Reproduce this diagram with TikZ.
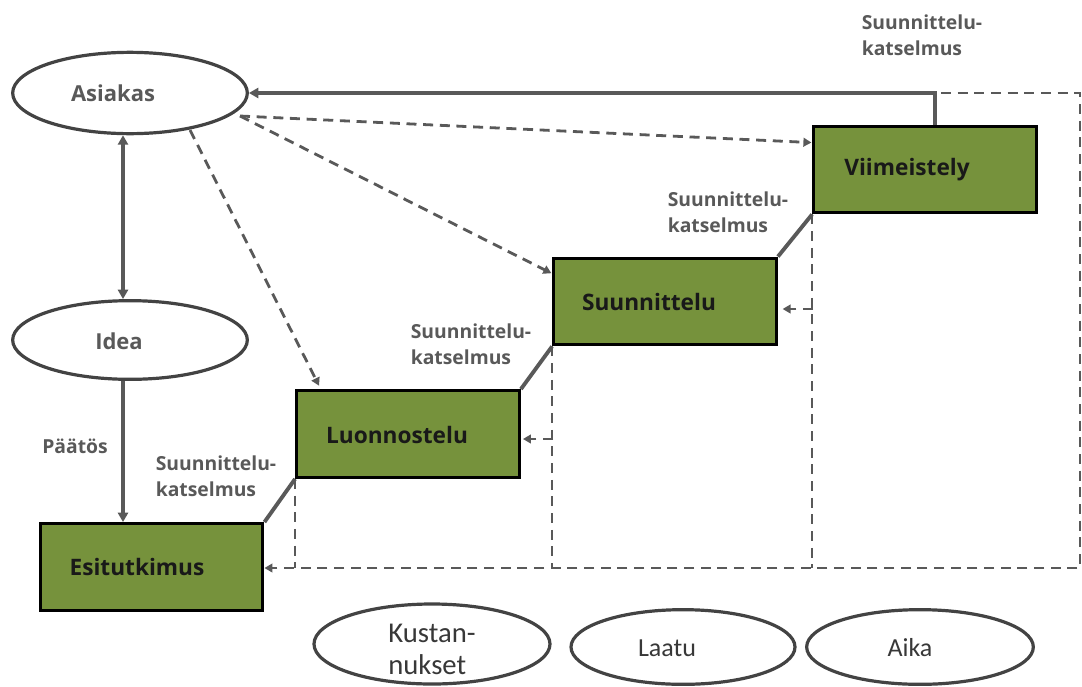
\documentclass[tikz,border=0pt]{standalone}
\usepackage{fontspec}
\setmainfont{Open Sans}
\newfontfamily\carl{Carlito}
\usetikzlibrary{arrows.meta,shapes.geometric}
\definecolor{boxgreen}{HTML}{76923C}
\definecolor{linegray}{HTML}{595959}
\definecolor{textgray}{HTML}{595959}
\begin{document}
\begin{tikzpicture}[x=0.75pt,y=-0.75pt,
  oval/.style={ellipse, draw=linegray!75!black, line width=2.4pt, fill=white, inner sep=0pt,
    minimum width=176pt, minimum height=61pt},
  smalloval/.style={oval, minimum width=168pt, minimum height=56pt},
  ovaltext/.style={font=\fontsize{16.5}{20}\selectfont\bfseries, text=textgray, inner sep=0pt},
  bottomtext/.style={font=\carl\fontsize{19.5}{24}\selectfont, text=black!78, align=left, inner sep=0pt},
  stepbox/.style={draw=black, line width=2.4pt, fill=boxgreen, minimum width=167pt, minimum height=65pt, inner sep=0pt},
  boxtext/.style={font=\fontsize{17}{20}\selectfont\bfseries, text=black!90, inner sep=0pt},
  lbl/.style={font=\fontsize{14.5}{19.5}\selectfont\bfseries, text=textgray, align=left, inner sep=0pt},
  solidline/.style={draw=linegray, line width=2.9pt},
  dashline/.style={draw=linegray, line width=2.1pt, dash pattern=on 7.5pt off 5pt},
  tip/.style={-{Triangle[length=7pt,width=7.5pt]}},
  dtip/.style={-{Triangle[length=6pt,width=6.5pt]}}
]
\useasboundingbox (0,0) rectangle (1082,686);

% ellipses
\node[oval] (asiakas) at (130,93) {};
\node[ovaltext] (asiakast) at (113,93) {Asiakas};
\node[oval, minimum height=59pt] (idea) at (130,340) {};
\node[ovaltext] (ideat) at (119,341) {Idea};

% boxes
\node[stepbox] (esi) at (151.5,567) {};
\node[boxtext] (esit) at (137,567) {Esitutkimus};
\node[stepbox] (luo) at (408,434) {};
\node[boxtext] (luot) at (397,435) {Luonnostelu};
\node[stepbox] (suu) at (665,301.5) {};
\node[boxtext] (suut) at (649,302) {Suunnittelu};
\node[stepbox] (vii) at (925,169.5) {};
\node[boxtext] (viit) at (907,170) {Viimeistely};

% bottom ellipses
\node[oval, minimum width=177pt, minimum height=60pt] (kus) at (432,644) {};
\node[bottomtext, font=\carl\fontsize{21.5}{24}\selectfont] (kust) at (432,649) {Kustan-\\nukset};
\node[smalloval] (laa) at (683,647) {};
\node[bottomtext] (laat) at (667,648) {Laatu};
\node[oval, minimum width=170pt, minimum height=56pt] (aik) at (920,647) {};
\node[bottomtext] (aikt) at (910,648) {Aika};

% labels
\node[lbl] (l1) at (216,476) {Suunnittelu-\\katselmus};
\node[lbl] (l2) at (471,344) {Suunnittelu-\\katselmus};
\node[lbl] (l3) at (728,212) {Suunnittelu-\\katselmus};
\node[lbl] (l4) at (922,35) {Suunnittelu-\\katselmus};
\node[lbl] (paatos) at (75,446) {Päätös};

% coordinates
\coordinate (vx) at (123,0);
\coordinate (topc) at (935,93);
\coordinate (dtl) at (941,93);
\coordinate (dtr) at (1080,93);
\coordinate (dbr) at (1080,568);
\coordinate (b1) at (553,439);
\coordinate (b2) at (813,309);
\coordinate (a1) at (190,130);
\coordinate (a2) at (240,116);

% solid connectors
\draw[solidline, {Triangle[length=7pt,width=7.5pt]}-{Triangle[length=7pt,width=7.5pt]}]
  (asiakas.south -| vx) -- (idea.north -| vx);
\draw[solidline, tip] (idea.south -| vx) -- (esi.north -| vx);
\draw[solidline] (esi.north east) -- (luo.south west);
\draw[solidline] (luo.north east) -- (suu.south west);
\draw[solidline] (suu.north east) -- (vii.south west);
\draw[solidline, tip] (vii.north -| topc) -- (topc) -- (asiakas.east);

% dashed feedback
\draw[dashline, dtip] (dtl) -- (dtr) -- (dbr) -- (esi.east |- dbr);
\draw[dashline] (luo.south west) -- (luo.south west |- dbr);
\draw[dashline] (suu.south west) -- (suu.south west |- dbr);
\draw[dashline] (vii.south west) -- (vii.south west |- dbr);
\draw[dashline, dtip] (b1) -- ([xshift=1.5pt]luo.east |- b1);
\draw[dashline, dtip] (b2) -- ([xshift=3.5pt]suu.east |- b2);

% dashed from Asiakas
\draw[dashline, dtip] (a1) -- ([xshift=18pt,yshift=2.5pt]luo.north west);
\draw[dashline, dtip] (a2) -- ([xshift=-0.5pt,yshift=-12.5pt]suu.north west);
\draw[dashline, dtip] (a2) -- ([xshift=-0.5pt,yshift=-13.5pt]vii.north west);
\end{tikzpicture}
\end{document}
